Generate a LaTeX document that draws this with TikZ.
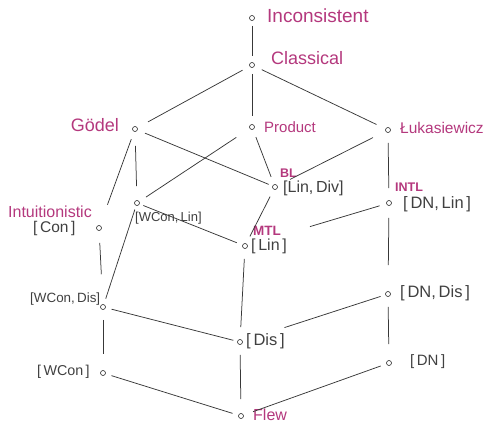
\documentclass[tikz,border=0pt]{standalone}
\usepackage{fontspec}
\setmainfont{Liberation Sans}
\newcommand{\fsz}[1]{\fontsize{#1}{#1}\selectfont}
\begin{document}
\begin{tikzpicture}[x=1pt,y=-1pt,
  pt/.style={circle,draw=black!85,line width=0.6pt,inner sep=0pt,minimum size=5pt},
  edge/.style={draw=black!78,line width=0.75pt,shorten <=8pt,shorten >=8pt},
  logic/.style={text=magenta!70!black,font=\fsz{16},inner sep=0pt},
  small/.style={text=magenta!70!black,font=\bfseries\fsz{12},inner sep=0pt},
  brk/.style={text=black!75,font=\fsz{13},inner sep=0pt}]
\useasboundingbox (0,0) rectangle (490,423);
% nodes
\node[pt] (inc) at (252,18) {};
\node[pt] (cla) at (252,65) {};
\node[pt] (god) at (135,129) {};
\node[pt] (pro) at (252,127) {};
\node[pt] (luk) at (388,130) {};
\node[pt] (bl) at (275,187) {};
\node[pt] (intl) at (389,203) {};
\node[pt] (int) at (99,228) {};
\node[pt] (wcl) at (137,203) {};
\node[pt] (mtl) at (245,246) {};
\node[pt] (wcd) at (103,307) {};
\node[pt] (dnd) at (388,294) {};
\node[pt] (dis) at (240,342) {};
\node[pt] (wc) at (103,373) {};
\node[pt] (dn) at (389,363) {};
\node[pt] (flew) at (241,416) {};
% labels
\node[logic,anchor=west,font=\fsz{19}] (linc) at (267,16) {Inconsistent};
\node[logic,anchor=west,font=\fsz{18}] (lcla) at (271,58) {Classical};
\node[logic,anchor=east,font=\fsz{18}] (lgod) at (119,125) {Gödel};
\node[logic,anchor=west,font=\fsz{15}] (lpro) at (264,127) {Product};
\node[logic,anchor=west,font=\fsz{15.5}] (lluk) at (400,128) {Łukasiewicz};
\node[logic,anchor=west,font=\fsz{16}] (lint) at (8,212) {Intuitionistic};
\node[small,anchor=west,font=\bfseries\fsz{12.5}] (lbl) at (280,173) {BL};
\node[small,anchor=west,font=\bfseries\fsz{12.5}] (lintl) at (395,187) {INTL};
\node[small,anchor=west,font=\bfseries\fsz{13.5}] (lmtl) at (253,231) {MTL};
\node[logic,anchor=west,font=\fsz{16}] (lflew) at (253,415) {Flew};
\node[brk,anchor=west,font=\fsz{16}] (blb) at (283,188) {[Lin,\,Div]};
\node[brk,anchor=west,font=\fsz{16.5}] (intlb) at (403,204) {[\,DN,\,Lin\,]};
\node[brk,anchor=west,font=\fsz{15.5}] (intb) at (33,228) {[\,Con\,]};
\node[brk,anchor=west,font=\fsz{13}] (wclb) at (135,218) {[WCon,\,Lin]};
\node[brk,anchor=west,font=\fsz{16}] (mtlb) at (251,246) {[\,Lin\,]};
\node[brk,anchor=west,font=\fsz{13.4}] (wcdb) at (30,299) {[WCon,\,Dis]};
\node[brk,anchor=west,font=\fsz{16.5}] (dndb) at (400,293) {[\,DN,\,Dis\,]};
\node[brk,anchor=west,font=\fsz{16.5}] (disb) at (246,341) {[\,Dis\,]};
\node[brk,anchor=west,font=\fsz{14.3}] (wcb) at (37,372) {[\,WCon\,]};
\node[brk,anchor=west,font=\fsz{15}] (dnb) at (410,362) {[\,DN\,]};
% edges
\draw[edge,shorten <=5pt,shorten >=6pt] (inc) -- (cla);
\draw[edge,shorten >=12pt] (cla) -- (god);
\draw[edge,shorten <=6pt] (cla) -- (pro);
\draw[edge,shorten >=10pt] (cla) -- (luk);
\draw[edge,shorten >=4pt] (god) -- (bl);
\draw[edge,shorten >=22pt] (god) -- (int);
\draw[edge,shorten <=14pt,shorten >=14pt] (god) -- (wcl);
\draw[edge] (pro) -- (bl);
\draw[edge,shorten <=16pt] (pro) -- (wcl);
\draw[edge,shorten <=14pt,shorten >=14pt] (luk) -- (bl);
\draw[edge,shorten <=10pt,shorten >=12pt] (luk) -- (intl);
\draw[edge] (bl) -- (mtl);
\draw[edge,shorten <=4pt,shorten >=6pt] (wcl) -- (mtl);
\draw[edge,shorten <=4pt,shorten >=6pt] (wcl) -- (wcd);
\draw[edge,shorten <=12pt,shorten >=30pt] (int) -- (wcd);
\draw[edge,shorten <=7pt,shorten >=65pt] (intl) -- (mtl);
\draw[edge,shorten <=12pt,shorten >=26pt] (intl) -- (dnd);
\draw[edge,shorten <=10pt,shorten >=12pt] (mtl) -- (dis);
\draw[edge,shorten <=6pt,shorten >=4pt] (wcd) -- (dis);
\draw[edge,shorten <=5pt,shorten >=44pt] (dnd) -- (dis);
\draw[edge,shorten <=10pt,shorten >=16pt] (wcd) -- (wc);
\draw[edge,shorten <=10pt,shorten >=16pt] (dnd) -- (dn);
\draw[edge,shorten <=10pt,shorten >=14pt] (dis) -- (flew);
\draw[edge,shorten <=6pt,shorten >=6pt] (wc) -- (flew);
\draw[edge,shorten <=6pt,shorten >=10pt] (dn) -- (flew);
\end{tikzpicture}
\end{document}
